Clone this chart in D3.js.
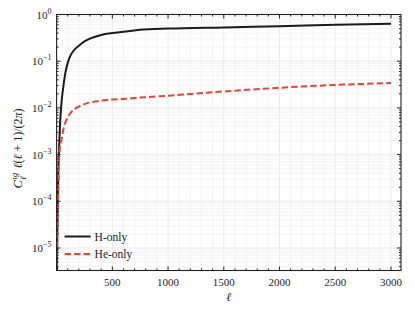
<!DOCTYPE html>
<html>
<head>
<meta charset="utf-8">
<script src="https://cdn.jsdelivr.net/npm/d3@7"></script>
<style>
  body { margin: 0; background: #fff; }
</style>
</head>
<body>
<div id="chart"></div>
<script>
// multipoles
const ellH = [2, 5, 10, 15, 20, 30, 40, 50, 60, 70, 80, 100, 120, 150, 200, 250, 300, 400, 500, 600, 750, 1000, 1500, 2000, 2500, 3000];
// H-only spectrum
const valH = [1e-6, 1e-5, 1e-4, 4e-4, 1e-3, 4e-3, 1e-2, 0.018, 0.028, 0.042, 0.058, 0.092, 0.125, 0.165, 0.215, 0.265, 0.305, 0.365, 0.40, 0.425, 0.47, 0.50, 0.53, 0.56, 0.60, 0.63];
const ellHe = [2, 5, 10, 15, 20, 25, 30, 45, 60, 90, 120, 150, 180, 210, 270, 330, 450, 600, 800, 1000, 1500, 2000, 2500, 3000];
// He-only spectrum
const valHe = [4e-6, 1e-5, 5e-5, 1.5e-4, 5e-4, 1e-3, 1.4e-3, 2.1e-3, 3.4e-3, 5.6e-3, 7.5e-3, 9e-3, 0.0101, 0.011, 0.0125, 0.0135, 0.0148, 0.0156, 0.017, 0.0182, 0.0225, 0.027, 0.031, 0.034];
const seriesNames = ["H-only", "He-only"];
const xTicks = [500, 1000, 1500, 2000, 2500, 3000];
const yTickExp = [0, -1, -2, -3, -4, -5];

const FONT = "'Liberation Serif', 'Times New Roman', 'DejaVu Serif', serif";
const width = 415, height = 312;
const margin = { top: 14.5, right: 14, bottom: 41.5, left: 56.6 };
const w = width - margin.left - margin.right;
const h = height - margin.top - margin.bottom;

const svg = d3.select("#chart").append("svg")
    .attr("width", width)
    .attr("height", height)
    .attr("font-family", FONT)
    .style("font-family", FONT);

const g = svg.append("g")
    .attr("transform", "translate(" + margin.left + "," + margin.top + ")");

const x = d3.scaleLinear().domain([0, 3090]).range([0, w]);
const y = d3.scaleLog().domain([3.3e-6, 1]).range([h, 0]);

// minor values
const xMinor = d3.range(100, 3090, 100);
const yMinor = [];
for (let e = -6; e < 0; e++) {
    for (let k = 2; k <= 9; k++) {
        const v = k * Math.pow(10, e);
        if (v >= 3.3e-6 && v < 1) yMinor.push(v);
    }
}
const yMajor = yTickExp.map(e => Math.pow(10, e));

// grid
const grid = g.append("g").attr("class", "grid");
grid.selectAll(".gx").data(xMinor).enter().append("line")
    .attr("x1", d => x(d)).attr("x2", d => x(d))
    .attr("y1", 0).attr("y2", h)
    .style("stroke", d => d % 500 === 0 ? "#e3e3e3" : "#f0f0f0")
    .style("stroke-width", 0.8);
grid.selectAll(".gy").data(yMinor).enter().append("line")
    .attr("x1", 0).attr("x2", w)
    .attr("y1", d => y(d)).attr("y2", d => y(d))
    .style("stroke", "#f1f1f1")
    .style("stroke-width", 0.8);
grid.selectAll(".gy2").data(yMajor).enter().append("line")
    .attr("x1", 0).attr("x2", w)
    .attr("y1", d => y(d)).attr("y2", d => y(d))
    .style("stroke", "#e3e3e3")
    .style("stroke-width", 0.8);

// curves
svg.append("defs").append("clipPath").attr("id", "clip")
    .append("rect").attr("width", w).attr("height", h);

const line = d3.line()
    .x(d => x(d[0]))
    .y(d => y(d[1]))
    .curve(d3.curveMonotoneX);

const curves = g.append("g").attr("clip-path", "url(#clip)");
curves.append("path")
    .attr("d", line(ellH.map((l, i) => [l, valH[i]])))
    .attr("fill", "none")
    .attr("stroke", "#1a1a1a")
    .attr("stroke-width", 2);
curves.append("path")
    .attr("d", line(ellHe.map((l, i) => [l, valHe[i]])))
    .attr("fill", "none")
    .attr("stroke", "#e5443c")
    .attr("stroke-width", 2)
    .attr("stroke-dasharray", "6.5,3");

// ticks, all inward
const ticks = g.append("g").style("stroke", "#222");
xTicks.forEach(t => {
    ticks.append("line").attr("x1", x(t)).attr("x2", x(t)).attr("y1", h).attr("y2", h - 4);
    ticks.append("line").attr("x1", x(t)).attr("x2", x(t)).attr("y1", 0).attr("y2", 4);
});
xMinor.filter(t => t % 500 !== 0).forEach(t => {
    ticks.append("line").attr("x1", x(t)).attr("x2", x(t)).attr("y1", h).attr("y2", h - 2);
    ticks.append("line").attr("x1", x(t)).attr("x2", x(t)).attr("y1", 0).attr("y2", 2);
});
yMajor.forEach(t => {
    ticks.append("line").attr("x1", 0).attr("x2", 4).attr("y1", y(t)).attr("y2", y(t));
    ticks.append("line").attr("x1", w).attr("x2", w - 4).attr("y1", y(t)).attr("y2", y(t));
});
yMinor.forEach(t => {
    ticks.append("line").attr("x1", 0).attr("x2", 2).attr("y1", y(t)).attr("y2", y(t));
    ticks.append("line").attr("x1", w).attr("x2", w - 2).attr("y1", y(t)).attr("y2", y(t));
});

// frame
g.append("rect")
    .attr("width", w).attr("height", h)
    .attr("fill", "none")
    .attr("stroke", "#222")
    .attr("stroke-width", 1.1);

// x tick labels
g.selectAll(".xl").data(xTicks).enter().append("text")
    .attr("x", d => x(d))
    .attr("y", h + 15)
    .attr("text-anchor", "middle")
    .attr("font-size", "11px")
    .attr("fill", "#222")
    .text(d => d);

// y tick labels
const yl = g.selectAll(".yl").data(yTickExp).enter().append("text")
    .attr("x", -5)
    .attr("y", d => y(Math.pow(10, d)) + 4)
    .attr("text-anchor", "end")
    .attr("font-size", "11px")
    .attr("fill", "#222");
yl.append("tspan").text("10");
yl.append("tspan")
    .attr("dy", -5)
    .attr("font-size", "8px")
    .text(d => d === 0 ? "0" : "\u2212" + (-d));

// x label
g.append("text")
    .attr("x", w / 2)
    .attr("y", h + 30)
    .attr("text-anchor", "middle")
    .attr("font-size", "12px")
    .attr("font-style", "italic")
    .attr("fill", "#222")
    .text("\u2113");

// y label, built in a rotated group
const ylab = svg.append("g")
    .attr("transform", "translate(22," + (margin.top + h / 2) + ") rotate(-90)")
    .attr("fill", "#222");
ylab.append("text").attr("x", -46).attr("y", 0)
    .attr("font-size", "12.5px").attr("font-style", "italic").text("C");
ylab.append("text").attr("x", -37.5).attr("y", -5)
    .attr("font-size", "8.5px").attr("font-style", "italic").text("\u03c4g");
ylab.append("text").attr("x", -37.5).attr("y", 3.5)
    .attr("font-size", "8.5px").attr("font-style", "italic").text("\u2113");
const rest = ylab.append("text").attr("x", -26).attr("y", 0)
    .attr("font-size", "12px");
rest.append("tspan").attr("font-style", "italic").text("\u2113");
rest.append("tspan").text("(");
rest.append("tspan").attr("font-style", "italic").text("\u2113");
rest.append("tspan").text(" + 1)/(2");
rest.append("tspan").attr("font-style", "italic").text("\u03c0");
rest.append("tspan").text(")");

// legend
const legend = g.append("g")
    .attr("transform", "translate(8," + (h - 34) + ")");
const legendStyle = [
    { color: "#1a1a1a", dash: null },
    { color: "#e5443c", dash: "6.5,3" }
];
seriesNames.forEach((name, i) => {
    const row = legend.append("g").attr("transform", "translate(0," + (i * 17.5) + ")");
    row.append("line")
        .attr("x1", 0).attr("x2", 26)
        .attr("y1", 0).attr("y2", 0)
        .attr("stroke", legendStyle[i].color)
        .attr("stroke-width", 2)
        .attr("stroke-dasharray", legendStyle[i].dash);
    row.append("text")
        .attr("x", 30)
        .attr("y", 4)
        .attr("font-size", "11.5px")
        .attr("fill", "#222")
        .text(name);
});
</script>
</body>
</html>
